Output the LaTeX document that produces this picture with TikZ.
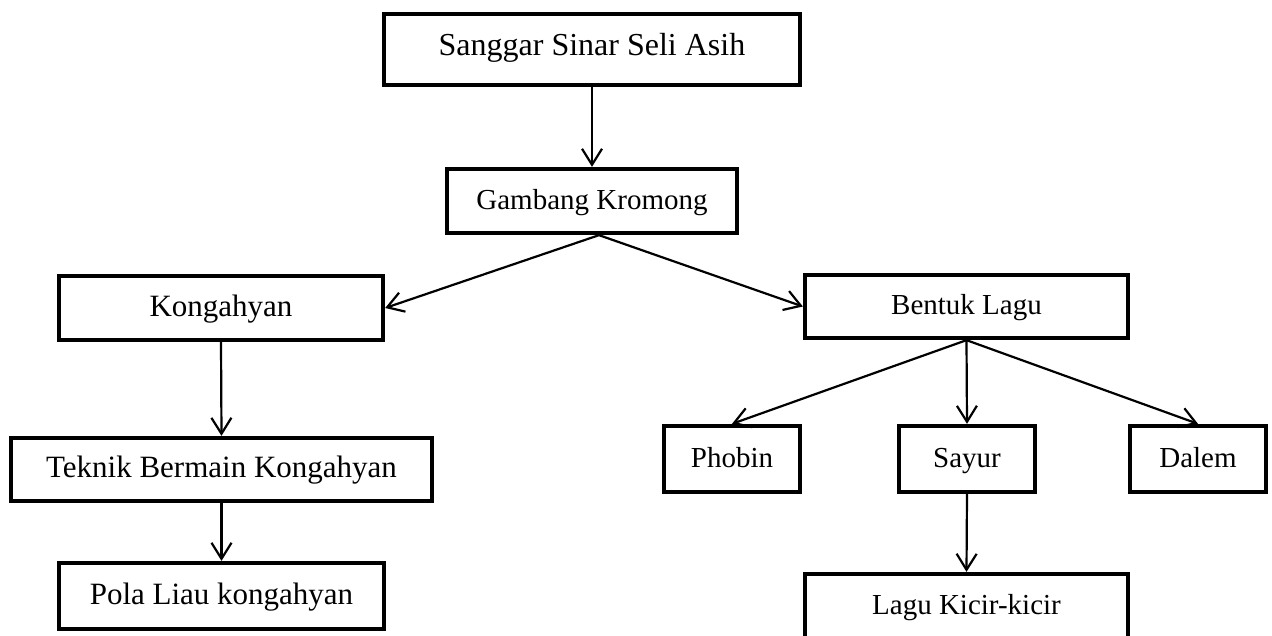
\documentclass[tikz,border=0pt]{standalone}
\usepackage{fontspec}
\setmainfont{Liberation Serif}
\usetikzlibrary{arrows.meta}
\begin{document}
\begin{tikzpicture}[x=1pt,y=-1pt,
  box/.style={draw, line width=4.3pt, inner sep=0pt, align=center, text height=20pt, text depth=4pt},
  fa/.style={font=\fontsize{32}{36}\selectfont, text height=21pt, text depth=10pt},
  fb/.style={font=\fontsize{31}{36}\selectfont},
  fc/.style={font=\fontsize{29}{34}\selectfont},
  arr/.style={line width=2.2pt, -{Straight Barb[length=16pt,width=20pt]}}]
\useasboundingbox (0,0) rectangle (1272,635);
\node[box,fa,minimum width=416pt,minimum height=71pt] (s) at (592,49.5) {Sanggar Sinar Seli Asih};
\node[box,fc,minimum width=290pt,minimum height=64pt] (g) at (592,201) {Gambang Kromong};
\node[box,fb,minimum width=324pt,minimum height=64pt] (k) at (221,308) {Kongahyan};
\node[box,fc,minimum width=323pt,minimum height=63pt] (b) at (966.5,306.5) {Bentuk Lagu};
\node[box,fb,minimum width=421pt,minimum height=63pt] (t) at (221.5,469.5) {Teknik Bermain Kongahyan};
\node[box,fb,minimum width=325pt,minimum height=66pt] (p) at (221.5,596) {Pola Liau kongahyan};
\node[box,fc,minimum width=136pt,minimum height=66pt] (ph) at (732,459) {Phobin};
\node[box,fc,minimum width=136pt,minimum height=66pt] (sa) at (967,459) {Sayur};
\node[box,fc,minimum width=136pt,minimum height=66pt] (da) at (1198,459) {Dalem};
\node[box,fc,minimum width=323pt,minimum height=66pt,text depth=6pt] (l) at (966.5,607) {Lagu Kicir-kicir};
\coordinate (gs) at ([xshift=7pt]g.south);
\draw[arr] (s.south) -- (g.north);
\draw[arr] (gs) -- (k.east);
\draw[arr] (gs) -- (b.west);
\draw[arr] (k.south) -- (t.north);
\draw[arr] (t.south) -- (p.north);
\draw[arr] (b.south) -- (ph.north);
\draw[arr] (b.south) -- (sa.north);
\draw[arr] (b.south) -- (da.north);
\draw[arr] (sa.south) -- (l.north);
\end{tikzpicture}
\end{document}
